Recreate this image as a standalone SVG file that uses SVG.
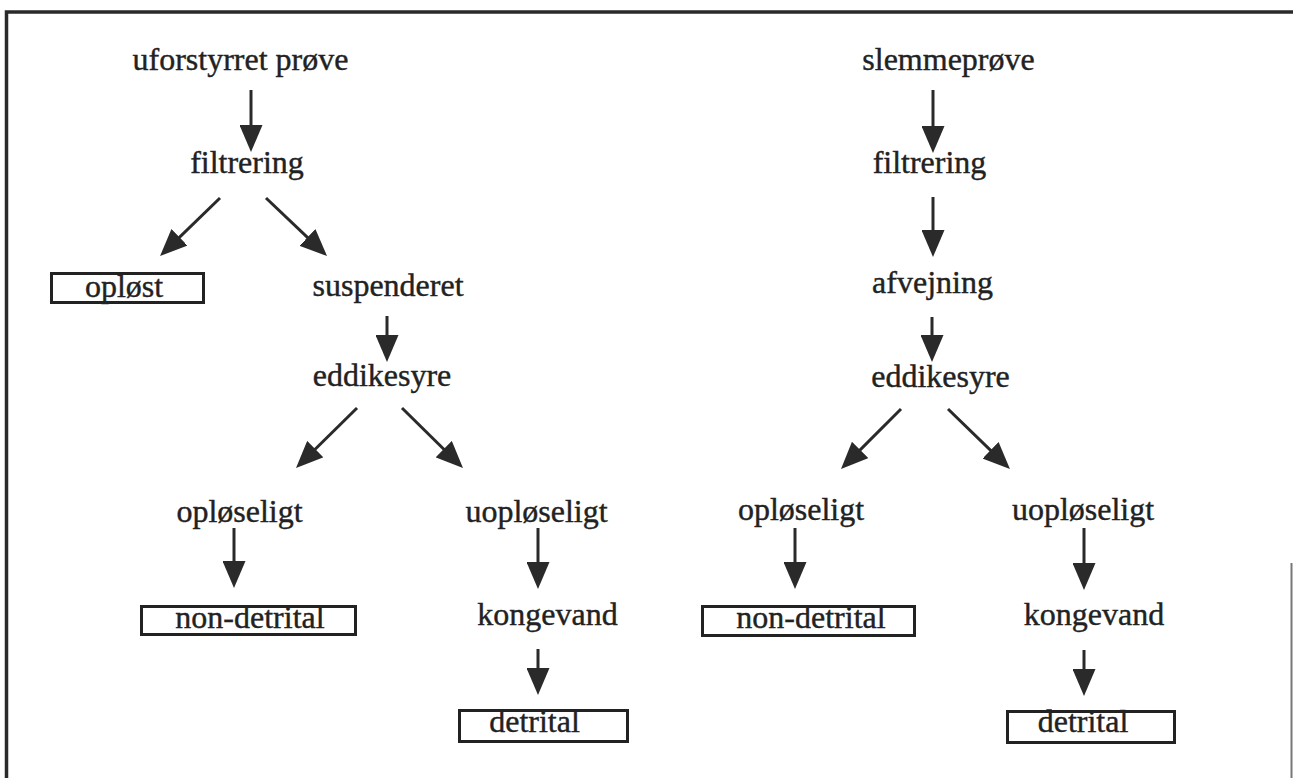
<svg xmlns="http://www.w3.org/2000/svg" width="1293" height="778" viewBox="0 0 1293 778">
<style>
  text { font-family: "Liberation Serif", "Times New Roman", serif; font-size: 32px; fill: #222; stroke: #222; stroke-width: 0.4; text-anchor: middle; }
  .box { fill: none; stroke: #222; stroke-width: 3; }
  .arr { stroke: #2a2a2a; stroke-width: 3; fill: none; marker-end: url(#ah); }
</style>
<defs>
  <marker id="ah" viewBox="0 0 27 23" refX="13" refY="11.5" markerWidth="27" markerHeight="23" markerUnits="userSpaceOnUse" orient="auto">
    <path d="M0,0 L27,11.5 L0,23 Z" fill="#2a2a2a"/>
  </marker>
</defs>
<rect width="1293" height="778" fill="#fff"/>
<g id="frame">
  <path d="M6.5,778 V12 H1293" fill="none" stroke="#2a2a2a" stroke-width="3.5"/>
  <line x1="1291.5" y1="563" x2="1291.5" y2="778" stroke="#777" stroke-width="2"/>
</g>
<g id="connectors">
  <line class="arr" x1="251" y1="90" x2="251" y2="138"/>
  <line class="arr" x1="220" y1="198" x2="170.1" y2="246.3"/>
  <line class="arr" x1="266" y1="198" x2="316.9" y2="246.4"/>
  <line class="arr" x1="387" y1="316" x2="387" y2="348"/>
  <line class="arr" x1="357" y1="408" x2="306" y2="458.2"/>
  <line class="arr" x1="402" y1="408" x2="453" y2="458.2"/>
  <line class="arr" x1="234" y1="528" x2="234" y2="574"/>
  <line class="arr" x1="538" y1="528" x2="538" y2="575"/>
  <line class="arr" x1="538" y1="649" x2="538" y2="681"/>
  <line class="arr" x1="933" y1="90" x2="933" y2="139"/>
  <line class="arr" x1="933" y1="197" x2="933" y2="243"/>
  <line class="arr" x1="932" y1="317" x2="932" y2="348"/>
  <line class="arr" x1="901" y1="409" x2="850.9" y2="459.1"/>
  <line class="arr" x1="948" y1="409" x2="999.9" y2="459.3"/>
  <line class="arr" x1="795" y1="528" x2="795" y2="575"/>
  <line class="arr" x1="1084" y1="528" x2="1084" y2="576"/>
  <line class="arr" x1="1084" y1="650" x2="1084" y2="682"/>
</g>
<g id="n-uforstyrret"><text x="240.5" y="70">uforstyrret prøve</text></g>
<g id="n-filtrering-l"><text x="247" y="173">filtrering</text></g>
<g id="n-oploest"><rect class="box" x="51.5" y="273.5" width="152" height="29"/><text x="124" y="297">opløst</text></g>
<g id="n-suspenderet"><text x="388" y="296">suspenderet</text></g>
<g id="n-eddikesyre-l"><text x="382" y="386">eddikesyre</text></g>
<g id="n-oploeseligt-l"><text x="239.5" y="522">opløseligt</text></g>
<g id="n-uoploeseligt-l"><text x="536.5" y="522">uopløseligt</text></g>
<g id="n-nondetrital-l"><rect class="box" x="141.5" y="606.5" width="214" height="28"/><text x="250" y="628">non-detrital</text></g>
<g id="n-kongevand-l"><text x="547.5" y="625">kongevand</text></g>
<g id="n-detrital-l"><rect class="box" x="459.5" y="710.5" width="168" height="31"/><text x="534.5" y="732">detrital</text></g>
<g id="n-slemmeproeve"><text x="948.5" y="70">slemmeprøve</text></g>
<g id="n-filtrering-r"><text x="929.5" y="173">filtrering</text></g>
<g id="n-afvejning"><text x="932.5" y="293">afvejning</text></g>
<g id="n-eddikesyre-r"><text x="940.5" y="387">eddikesyre</text></g>
<g id="n-oploeseligt-r"><text x="801" y="520">opløseligt</text></g>
<g id="n-uoploeseligt-r"><text x="1083" y="520">uopløseligt</text></g>
<g id="n-nondetrital-r"><rect class="box" x="702.5" y="606.5" width="212" height="29"/><text x="811" y="628">non-detrital</text></g>
<g id="n-kongevand-r"><text x="1094" y="625">kongevand</text></g>
<g id="n-detrital-r"><rect class="box" x="1007.5" y="711.5" width="167" height="31"/><text x="1083" y="732">detrital</text></g>
</svg>
